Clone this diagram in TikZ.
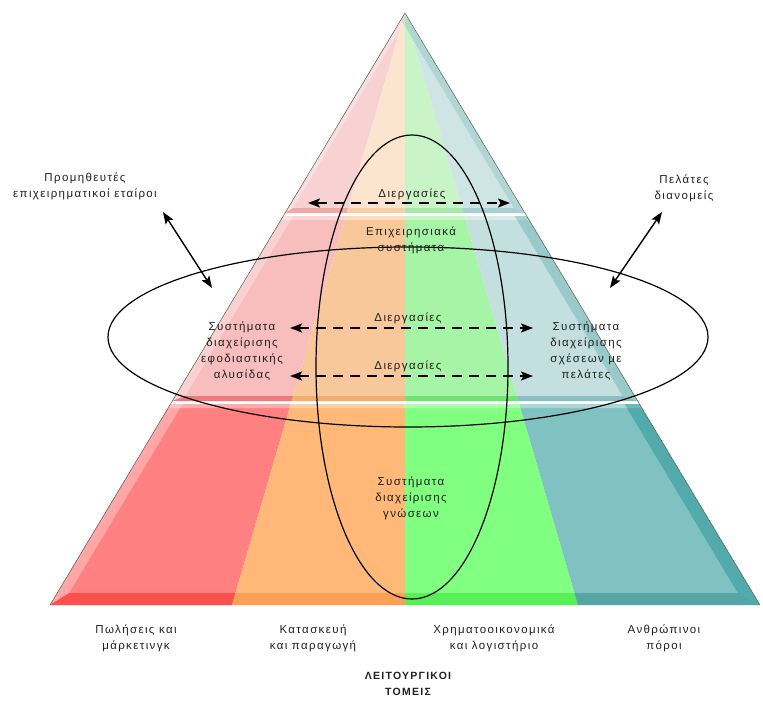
\documentclass[tikz,border=0pt]{standalone}
\usepackage{fontspec}
\setmainfont{Liberation Sans}[LetterSpace=12]
\usetikzlibrary{arrows.meta}

% layer colours: T = top, M = middle, B = bottom; D = darker lower rim
\definecolor{T1}{HTML}{F8D2D2}\definecolor{T2}{HTML}{FCE5CF}\definecolor{T3}{HTML}{C8F4C8}\definecolor{T4}{HTML}{CFE4E4}
\definecolor{TD1}{HTML}{F0A8A8}\definecolor{TD2}{HTML}{F6CFA8}\definecolor{TD3}{HTML}{A8E8A8}\definecolor{TD4}{HTML}{A8D0D0}
\definecolor{M1}{HTML}{F8BEBE}\definecolor{M2}{HTML}{F8C89A}\definecolor{M3}{HTML}{A6F4A6}\definecolor{M4}{HTML}{C4DFDF}
\definecolor{MD1}{HTML}{EE7A7A}\definecolor{MD2}{HTML}{F2AE6A}\definecolor{MD3}{HTML}{70E470}\definecolor{MD4}{HTML}{88BEC4}
\definecolor{B1}{HTML}{FF8080}\definecolor{B2}{HTML}{FFB878}\definecolor{B3}{HTML}{80FF80}\definecolor{B4}{HTML}{80C2C2}
\definecolor{BD1}{HTML}{FA5050}\definecolor{BD2}{HTML}{FCA058}\definecolor{BD3}{HTML}{58F058}\definecolor{BD4}{HTML}{55A5A5}
\definecolor{ink}{HTML}{202020}

% x position of the left / right pyramid edge at height y
\newcommand{\LX}[1]{405-0.5997*((#1)-13)}
\newcommand{\RX}[1]{405+0.5997*((#1)-13)}

% the four sectors fanning out from the apex
\newcommand{\sectors}[1]{%
  \fill[#11] (405,13) -- (50,605) -- (232,605) -- cycle;
  \fill[#12] (405,13) -- (232,605) -- (405,605) -- cycle;
  \fill[#13] (405,13) -- (405,605) -- (578,605) -- cycle;
  \fill[#14] (405,13) -- (578,605) -- (760,605) -- cycle;}

% one bevelled layer: #1 colour prefix, #2 top y, #3 bottom y,
% #4 lower rim height, #5 left bevel, #6 right bevel, #7 right bevel opacity
\newcommand{\pyrlayer}[7]{%
  \begin{scope}
    \clip ({\LX{#2}},#2) -- ({\LX{#3}},#3) -- ({\RX{#3}},#3) -- ({\RX{#2}},#2) -- cycle;
    \sectors{#1}
    \fill[white,opacity=.35] ({\LX{#2}},#2) -- ({\RX{#2}},#2) -- ({\RX{#2+4}},{#2+4}) -- ({\LX{#2+4}},{#2+4}) -- cycle;
    \fill[white,opacity=.3] ({\LX{#2}},#2) -- ({\LX{#3}},#3) -- ({\LX{#3-#4}+#5},{#3-#4}) -- ({\LX{#2}+#5},#2) -- cycle;
    \fill[teal,opacity=#7] ({\RX{#2}},#2) -- ({\RX{#3}},#3) -- ({\RX{#3-#4}-#6},{#3-#4}) -- ({\RX{#2}-#6},#2) -- cycle;
    \begin{scope}
      \clip ({\LX{#3}},#3) -- ({\RX{#3}},#3) -- ({\RX{#3-#4}-#6},{#3-#4}) -- ({\LX{#3-#4}+#5},{#3-#4}) -- cycle;
      \sectors{#1D}
    \end{scope}
  \end{scope}}

\tikzset{
  lbl/.style={font=\fontsize{11.5}{16}\selectfont, text=ink, align=center, inner sep=0pt},
  ttl/.style={font=\fontsize{10.5}{16}\selectfont\bfseries, text=ink, align=center, inner sep=0pt},
  dbl/.style={line width=1.4pt, {Stealth[length=12pt,width=9pt,inset=2.5pt]}-{Stealth[length=12pt,width=9pt,inset=2.5pt]}},
  dsh/.style={dbl, line width=1.6pt, dash pattern=on 10pt off 7pt},
  ring/.style={line width=1.2pt},
}

\begin{document}
\begin{tikzpicture}[x=1pt,y=-1pt]
  \useasboundingbox (0,0) rectangle (763,706);

  % pyramid layers
  \pyrlayer{T}{13}{213}{5}{5}{8}{.15}
  \pyrlayer{M}{216}{401}{5}{10}{12}{.22}
  \pyrlayer{B}{404}{605}{12}{12}{15}{.35}
  \draw[gray!70!black, line width=.5pt] (50,605) -- (405,13) -- (760,605);

  % the two systems rings
  \draw[ring] (412,367) ellipse [x radius=96pt, y radius=232pt];
  \draw[ring] (408,337) ellipse [x radius=300pt, y radius=90pt];

  % labels outside the pyramid
  \node[lbl] (sup) at (85,186) {Προμηθευτές\\επιχειρηματικοί εταίροι};
  \node[lbl] (cus) at (684,188) {Πελάτες\\διανομείς};

  % labels inside the pyramid
  \node[lbl] (proc1) at (412,194) {Διεργασίες};
  \node[lbl] (ent) at (411,240) {Επιχειρησιακά\\συστήματα};
  \node[lbl] (proc2) at (408,318) {Διεργασίες};
  \node[lbl] (proc3) at (408,366) {Διεργασίες};
  \node[lbl] (scm) at (242,351) {Συστήματα\\διαχείρισης\\εφοδιαστικής\\αλυσίδας};
  \node[lbl] (crm) at (586,351) {Συστήματα\\διαχείρισης\\σχέσεων με\\πελάτες};
  \node[lbl] (kms) at (411,498) {Συστήματα\\διαχείρισης\\γνώσεων};

  % functional areas
  \node[lbl] (f1) at (136,638) {Πωλήσεις και\\μάρκετινγκ};
  \node[lbl] (f2) at (313,638) {Κατασκευή\\και παραγωγή};
  \node[lbl] (f3) at (494,638) {Χρηματοοικονομικά\\και λογιστήριο};
  \node[lbl] (f4) at (664,638) {Ανθρώπινοι\\πόροι};
  \node[ttl] (areas) at (408,684) {ΛΕΙΤΟΥΡΓΙΚΟΙ\\ΤΟΜΕΙΣ};

  % arrow end points
  \coordinate (a1l) at (308,203);  \coordinate (a1r) at (510,203);
  \coordinate (a2l) at (290,328);  \coordinate (a2r) at (533,328);
  \coordinate (a3l) at (290,376);  \coordinate (a3r) at (533,376);
  \coordinate (sl) at (163,212);   \coordinate (sr) at (212,288);
  \coordinate (cl) at (662,212);   \coordinate (cr) at (610,288);

  % process flows
  \draw[dsh] (a1l) -- (a1r);
  \draw[dsh] (a2l) -- (a2r);
  \draw[dsh] (a3l) -- (a3r);

  % links to partners and customers
  \draw[dbl] (sl) -- (sr);
  \draw[dbl] (cl) -- (cr);
\end{tikzpicture}
\end{document}
